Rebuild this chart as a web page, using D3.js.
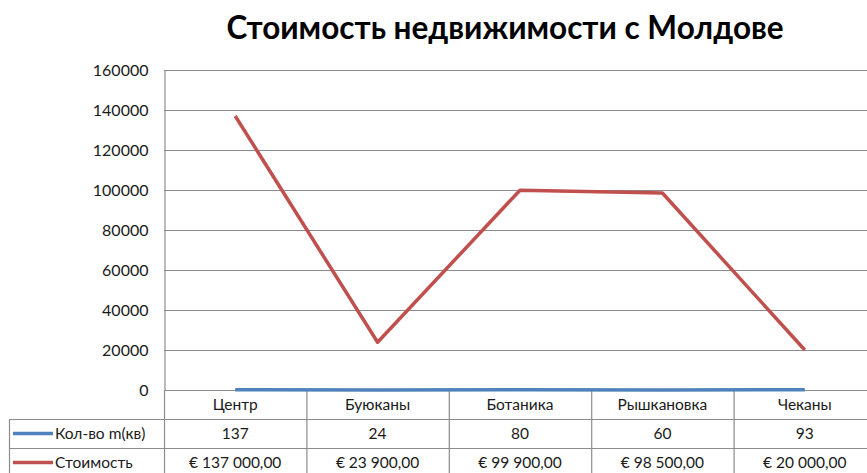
<!DOCTYPE html>
<html>
<head>
<meta charset="utf-8">
<script src="https://cdn.jsdelivr.net/npm/d3@7"></script>
<style>
  body { margin: 0; background: #fff; }
  svg { display: block; font-family: Lato, "Open Sans", sans-serif; }
</style>
</head>
<body>
<svg id="chart"></svg>
<script>
// data
const districts = ["Центр", "Буюканы", "Ботаника", "Рышкановка", "Чеканы"]
const area = [137, 24, 80, 60, 93]
const price = [137000, 23900, 99900, 98500, 20000]
const priceLabels = ["€ 137 000,00", "€ 23 900,00", "€ 99 900,00", "€ 98 500,00", "€ 20 000,00"]
const yTicks = [0, 20000, 40000, 60000, 80000, 100000, 120000, 140000, 160000]

const series = [
    { name: "Кол-во m(кв)", values: area, labels: area.map(String), color: "#4F81BD" },
    { name: "Стоимость", values: price, labels: priceLabels, color: "#C0504D" }
]

const width = 867
const height = 473
const margin = { top: 70, left: 164, right: -9 }
const plotBottom = 390
const rowH = 29
const tableLeft = 9
const gridColor = "#8c8c8c"

const svg = d3.select("#chart")
    .attr("width", width)
    .attr("height", height)

const x = d3.scaleBand()
    .domain(districts)
    .range([margin.left, width - margin.right])

const y = d3.scaleLinear()
    .domain([0, 160000])
    .range([plotBottom, margin.top])

// title
svg.append("text")
    .attr("x", 505)
    .attr("y", 39)
    .attr("text-anchor", "middle")
    .attr("font-size", 31.5)
    .attr("font-weight", "bold")
    .attr("fill", "#000")
    .text("Стоимость недвижимости с Молдове")

// gridlines
svg.append("g")
    .selectAll("line")
    .data(yTicks)
    .join("line")
    .attr("x1", margin.left)
    .attr("x2", width)
    .attr("y1", d => y(d) + 0.5)
    .attr("y2", d => y(d) + 0.5)
    .attr("stroke", gridColor)
    .attr("stroke-width", 1.2)

// y axis
const yAxis = svg.append("g")
    .attr("transform", `translate(${margin.left + 0.5},0)`)
    .call(d3.axisLeft(y).tickValues(yTicks).tickSize(0).tickPadding(16).tickFormat(d3.format("d")))
yAxis.select(".domain").attr("stroke", gridColor).attr("stroke-width", 1.2)
yAxis.selectAll("text")
    .attr("font-size", 16)
    .attr("font-family", "Lato, sans-serif")
    .attr("fill", "#1a1a1a")

// data table grid
const tableRight = width
const table = svg.append("g").attr("stroke", gridColor).attr("stroke-width", 1.2)
// horizontal row lines
table.append("line")
    .attr("x1", tableLeft).attr("x2", tableRight)
    .attr("y1", plotBottom + rowH + 0.5).attr("y2", plotBottom + rowH + 0.5)
table.append("line")
    .attr("x1", tableLeft).attr("x2", tableRight)
    .attr("y1", plotBottom + rowH * 2 + 0.5).attr("y2", plotBottom + rowH * 2 + 0.5)
table.append("line")
    .attr("x1", tableLeft + 0.5).attr("x2", tableLeft + 0.5)
    .attr("y1", plotBottom + rowH).attr("y2", height)
// column dividers
table.selectAll(".col")
    .data(districts)
    .join("line")
    .attr("class", "col")
    .attr("x1", d => x(d) + x.bandwidth() + 0.5)
    .attr("x2", d => x(d) + x.bandwidth() + 0.5)
    .attr("y1", plotBottom)
    .attr("y2", height)
table.append("line")
    .attr("x1", margin.left + 0.5).attr("x2", margin.left + 0.5)
    .attr("y1", plotBottom).attr("y2", height)

// category headers
svg.append("g")
    .selectAll("text")
    .data(districts)
    .join("text")
    .attr("x", d => x(d) + x.bandwidth() / 2)
    .attr("y", plotBottom + rowH / 2 + 5)
    .attr("text-anchor", "middle")
    .attr("font-size", 15.5)
    .attr("fill", "#1a1a1a")
    .text(d => d)

// series rows
series.forEach((s, i) => {
    const rowY = plotBottom + rowH * (i + 1)
    svg.append("line")
        .attr("x1", 13).attr("x2", 53)
        .attr("y1", rowY + rowH / 2).attr("y2", rowY + rowH / 2)
        .attr("stroke", s.color)
        .attr("stroke-width", 3.5)
    svg.append("text")
        .attr("x", 55)
        .attr("y", rowY + rowH / 2 + 5)
        .attr("font-size", 15.5)
        .attr("fill", "#1a1a1a")
        .text(s.name)
    svg.append("g")
        .selectAll("text")
        .data(s.labels)
        .join("text")
        .attr("x", (d, j) => x(districts[j]) + x.bandwidth() / 2)
        .attr("y", rowY + rowH / 2 + 5)
        .attr("text-anchor", "middle")
        .attr("font-size", 15.5)
        .attr("fill", "#1a1a1a")
        .text(d => d)
})

// lines
const line = d3.line()
    .x((d, j) => x(districts[j]) + x.bandwidth() / 2)
    .y(d => y(d))

svg.append("g")
    .selectAll("path")
    .data(series)
    .join("path")
    .attr("d", d => line(d.values))
    .attr("fill", "none")
    .attr("stroke", d => d.color)
    .attr("stroke-width", 3.5)
    .attr("stroke-linejoin", "round")
</script>
</body>
</html>
